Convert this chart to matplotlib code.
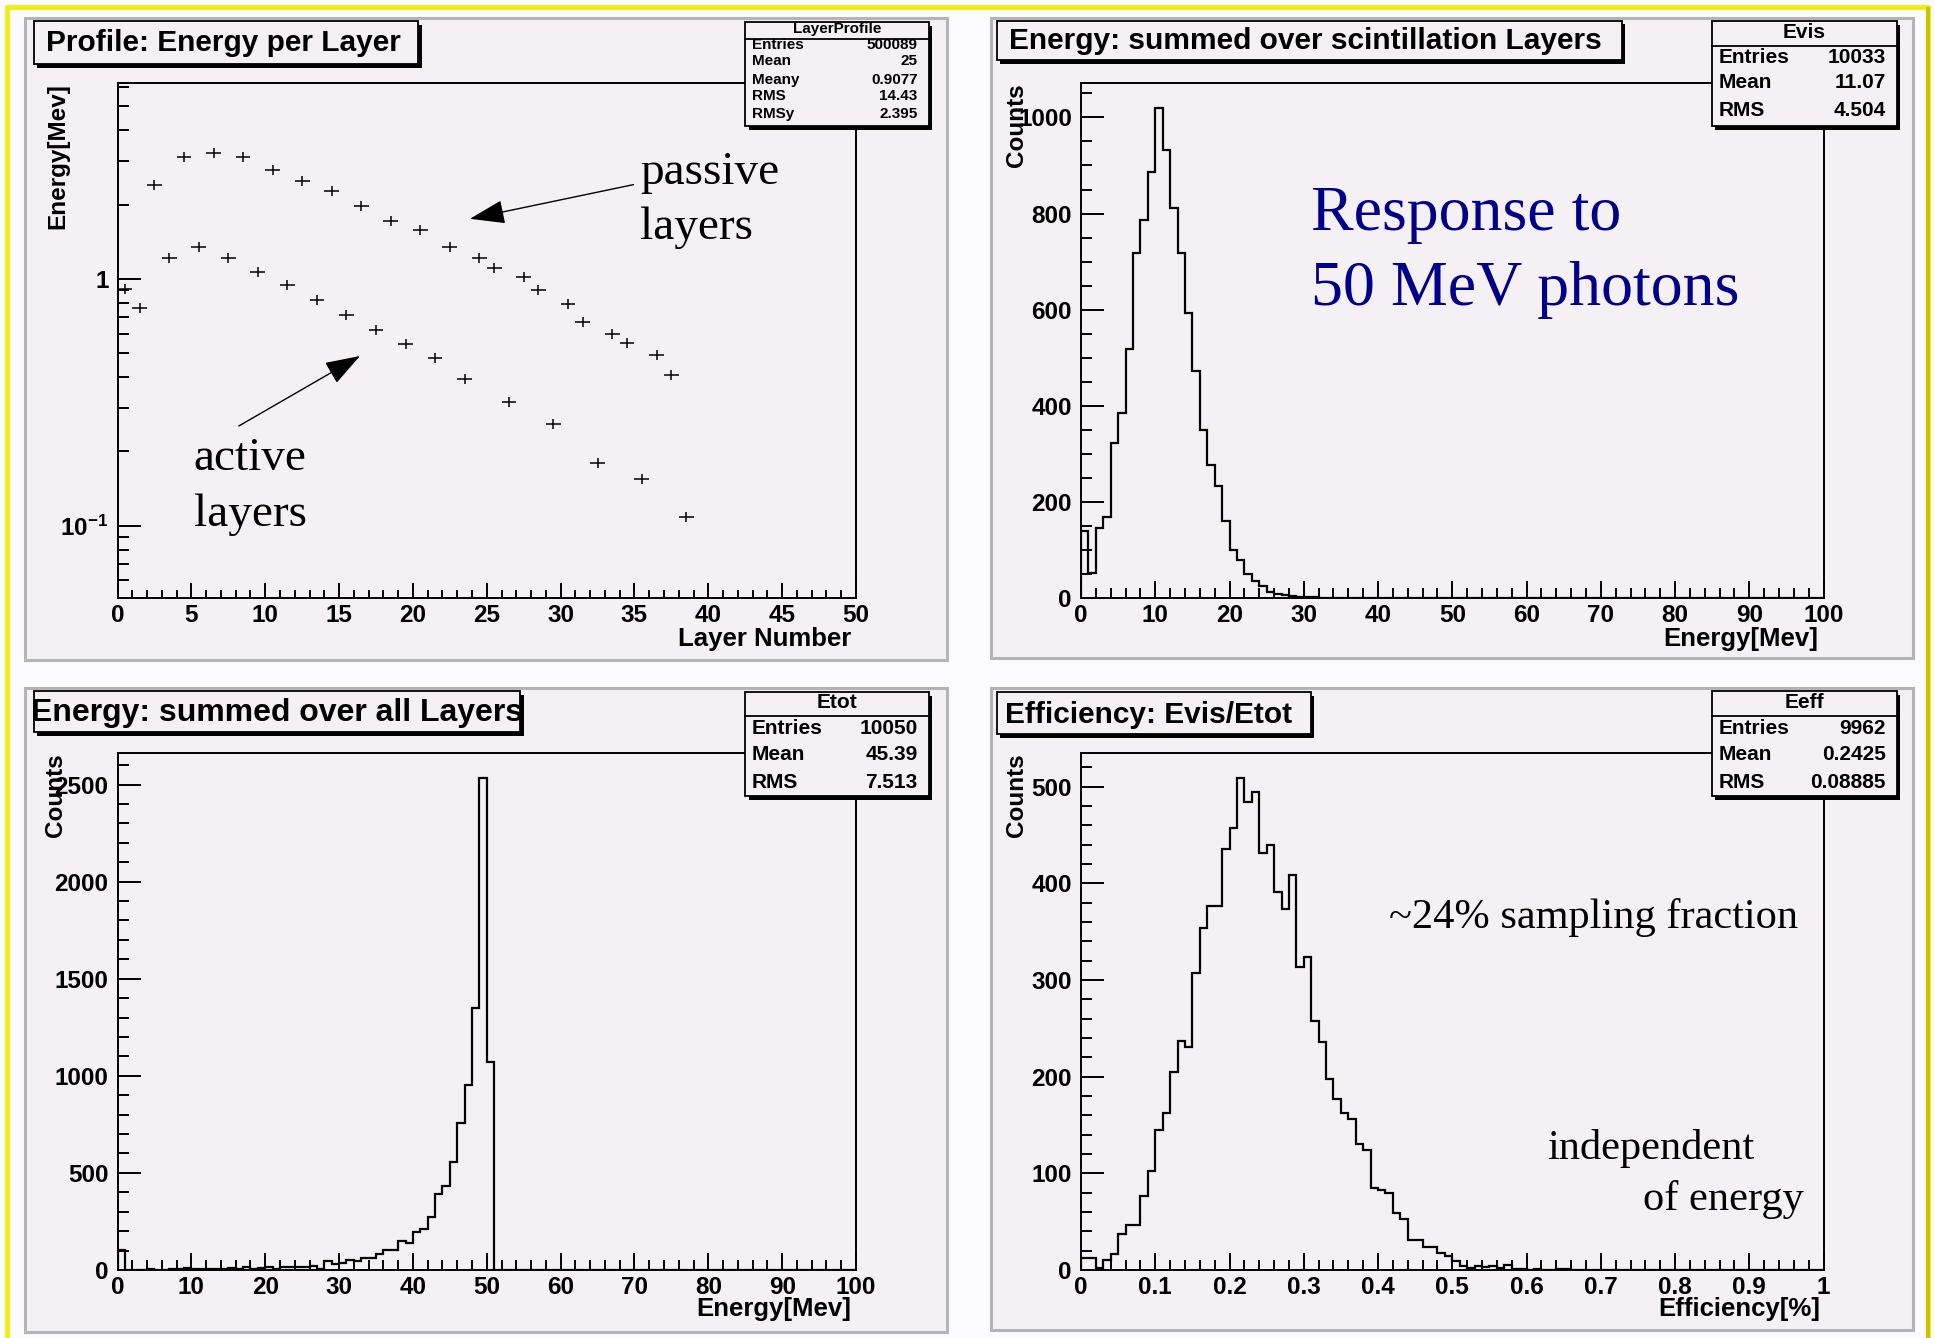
import matplotlib
matplotlib.use('Agg')
import matplotlib.pyplot as plt
import numpy as np
from matplotlib.patches import Rectangle, FancyArrowPatch
from matplotlib.lines import Line2D
from matplotlib.ticker import MultipleLocator, LogLocator, FuncFormatter, NullFormatter

# ---- data ----
passive_x = [2.5, 4.5, 6.5, 8.5, 10.5, 12.5, 14.5, 16.5, 18.5, 20.5, 22.5,
             24.5, 25.5, 27.5, 28.5, 30.5, 31.5, 33.5, 34.5, 36.5, 37.5]
passive_y = [2.39, 3.12, 3.25, 3.12, 2.77, 2.50, 2.26, 1.98, 1.71, 1.58, 1.35,
             1.21, 1.11, 1.02, 0.905, 0.793, 0.668, 0.598, 0.552, 0.491, 0.406]
active_x = [0.5, 1.5, 3.5, 5.5, 7.5, 9.5, 11.5, 13.5, 15.5, 17.5, 19.5, 21.5,
            23.5, 26.5, 29.5, 32.5, 35.5, 38.5]
active_y = [0.909, 0.762, 1.22, 1.34, 1.21, 1.07, 0.946, 0.819, 0.715, 0.619,
            0.543, 0.476, 0.393, 0.316, 0.2575, 0.180, 0.1545, 0.108]

evis_counts = [139, 53, 146, 169, 323, 384, 519, 717, 786, 886,
               1020, 932, 812, 717, 594, 472, 350, 277, 234, 161,
               99, 79, 50, 36, 26, 12, 8, 6, 5, 3,
               2, 2, 1, 1, 0, 1, 0, 0, 1, 0] + [0] * 60

etot_counts = [105, 1, 0, 1, 5, 1, 2, 6, 7, 8,
               7, 6, 3, 7, 6, 8, 7, 15, 7, 8,
               15, 5, 15, 14, 16, 15, 20, 7, 46, 29,
               37, 54, 46, 61, 61, 80, 102, 102, 148, 139,
               194, 211, 275, 389, 434, 556, 759, 955, 1350, 2534,
               1070] + [0] * 49

eeff_counts = [12, 12, 2, 10, 17, 37, 47, 47, 77, 102,
               145, 162, 205, 237, 231, 307, 354, 377, 377, 435,
               457, 509, 484, 494, 431, 440, 391, 373, 409, 313,
               324, 258, 236, 198, 177, 162, 156, 130, 124, 85,
               83, 80, 59, 53, 31, 31, 24, 24, 18, 14,
               9, 4, 2, 4, 3, 4, 2, 5, 1, 1,
               0, 1, 0, 0, 1, 1, 0, 0, 0, 0] + [0] * 30

titles = ['Profile: Energy per Layer', 'Energy: summed over scintillation Layers',
          'Energy: summed over all Layers', 'Efficiency: Evis/Etot']
stat_names = ['LayerProfile', 'Evis', 'Etot', 'Eeff']
stat_rows = [
    [('Entries', '500089'), ('Mean', '25'), ('Meany', '0.9077'), ('RMS', '14.43'), ('RMSy', '2.395')],
    [('Entries', '10033'), ('Mean', '11.07'), ('RMS', '4.504')],
    [('Entries', '10050'), ('Mean', '45.39'), ('RMS', '7.513')],
    [('Entries', '9962'), ('Mean', '0.2425'), ('RMS', '0.08885')],
]
xlabels = ['Layer Number', 'Energy[Mev]', 'Energy[Mev]', 'Efficiency[%]']
ylabels = ['Energy[Mev]', 'Counts', 'Counts', 'Counts']

W, H = 1935, 1338
BG = '#f4f0f4'

plt.rcParams['font.family'] = ['Liberation Sans', 'DejaVu Sans']
plt.rcParams['font.weight'] = 'bold'
plt.rcParams['mathtext.fontset'] = 'custom'
plt.rcParams['mathtext.rm'] = 'Liberation Sans:bold'
plt.rcParams['mathtext.it'] = 'Liberation Sans:bold'
plt.rcParams['mathtext.bf'] = 'Liberation Sans:bold'

fig = plt.figure(figsize=(W / 100, H / 100), dpi=100, facecolor='#fbfafc')


def fx(x):
    return x / W


def fy(y):
    return 1 - y / H


def rect(x0, y0, x1, y1, **kw):
    r = Rectangle((fx(x0), fy(y1)), (x1 - x0) / W, (y1 - y0) / H,
                  transform=fig.transFigure, **kw)
    fig.patches.append(r)
    return r


def pave(x0, y0, x1, y1, sh=3.5):
    rect(x0 + sh, y0 + sh, x1 + sh, y1 + sh, fc='black', ec='none', zorder=2)
    rect(x0, y0, x1, y1, fc=BG, ec='black', lw=1.3, zorder=2.1)


def make_axes(l, t, r, b):
    ax = fig.add_axes([fx(l), fy(b), (r - l) / W, (b - t) / H])
    ax.set_facecolor('none')
    for s in ax.spines.values():
        s.set_linewidth(1.4)
    ax.tick_params(axis='both', which='both', direction='in', top=False, right=False,
                   width=1.4, labelsize=17.5)
    ax.tick_params(axis='x', which='major', length=12.5, pad=4)
    ax.tick_params(axis='x', which='minor', length=7)
    ax.tick_params(axis='y', which='major', length=16.5, pad=6.5)
    ax.tick_params(axis='y', which='minor', length=8)
    return ax


# yellow outer border
rect(7, 7, 1928, 1345, fc='none', ec='#eeee10', lw=3.5, zorder=-10)
rect(1926, 7, 1930, 1345, fc='#c8c400', ec='none', zorder=-9)

# pads
pads = [(25, 18, 947, 660), (991, 18, 1913, 658), (25, 688, 947, 1332), (991, 688, 1913, 1330)]
for p in pads:
    rect(*p, fc=BG, ec='#b4b4b4', lw=2.2, zorder=-5)

frames = [(117.5, 83.3, 856, 598.2), (1081, 83.3, 1823.6, 598),
          (117.5, 753.3, 856, 1270), (1081, 753.3, 1823.6, 1270)]
axs = [make_axes(*f) for f in frames]

# --- top left: profile ---
ax = axs[0]
ax.set_yscale('log')
ax.set_xlim(0, 50)
ax.set_ylim(0.0508, 6.2)
ax.xaxis.set_major_locator(MultipleLocator(5))
ax.xaxis.set_minor_locator(MultipleLocator(1))
ax.yaxis.set_major_locator(LogLocator(base=10, numticks=10))
ax.yaxis.set_minor_locator(LogLocator(base=10, subs=np.arange(2, 10), numticks=20))
ax.yaxis.set_minor_formatter(NullFormatter())
ax.yaxis.set_major_formatter(FuncFormatter(
    lambda v, p: '1' if abs(v - 1) < 1e-9 else (r'$10^{-1}$' if abs(v - 0.1) < 1e-9 else '')))
ax.tick_params(axis='x', which='major', length=11)
ax.tick_params(axis='x', which='minor', length=6)
for xs, ys in [(passive_x, passive_y), (active_x, active_y)]:
    ax.errorbar(xs, ys, xerr=0.5, fmt='none', ecolor='black', elinewidth=1.1, capsize=0)
    ax.plot(xs, ys, ls='none', marker='|', ms=7, mew=1.1, color='black')

# --- histograms ---
hists = [(axs[1], evis_counts, 100, 10, 2, 200, 50),
         (axs[2], etot_counts, 100, 10, 2, 500, 100),
         (axs[3], eeff_counts, 1.0, 0.1, 0.02, 100, 20)]
for ax, counts, xmax, xmaj, xmin, ymaj, ymin in hists:
    edges = np.linspace(0, xmax, len(counts) + 1)
    ax.stairs(counts, edges, baseline=0, color='black', lw=1.6)
    ax.set_xlim(0, xmax)
    ax.set_ylim(0, 1.05 * max(counts))
    ax.xaxis.set_major_locator(MultipleLocator(xmaj))
    ax.xaxis.set_minor_locator(MultipleLocator(xmin))
    ax.yaxis.set_major_locator(MultipleLocator(ymaj))
    ax.yaxis.set_minor_locator(MultipleLocator(ymin))
axs[3].xaxis.set_major_formatter(FuncFormatter(lambda v, p: '%g' % round(v, 2)))

# axis titles
ylab_x = [-0.0806, -0.0875, -0.0846, -0.0875]
xlab_y = [-0.0796, -0.0796, -0.0754, -0.0754]
xlab_x = [0.993, 0.993, 0.993, 0.996]
for i, ax in enumerate(axs):
    ax.text(ylab_x[i], 1.0, ylabels[i], transform=ax.transAxes, rotation=90,
            ha='center', va='top', fontsize=17.5, fontweight='bold')
    ax.text(xlab_x[i], xlab_y[i], xlabels[i], transform=ax.transAxes,
            ha='right', va='center', fontsize=18.5, fontweight='bold')

# title boxes
tboxes = [(33.7, 21.4, 418, 64), (996.5, 20.5, 1621.6, 60),
          (33.7, 691.4, 520, 732), (996.5, 692, 1310.6, 734)]
tpos = [(46, 42.7, 21.5), (1009, 40.6, 21.5), (31, 712.6, 23), (1004.5, 714.7, 21.5)]
for i in range(4):
    pave(*tboxes[i])
    x, y, fs = tpos[i]
    fig.text(fx(x), fy(y), titles[i], ha='left', va='center', fontsize=fs,
             fontweight='bold', zorder=3)

# stats boxes
sboxes = [(745, 22, 928.7, 126), (1711.6, 21, 1896.5, 126),
          (745, 692, 928.7, 796), (1711.6, 691, 1896.5, 796)]
s_title_y = [29.5, 33, 703, 703]
s_line_y = [38.5, 46, 716, 716]
s_rows_y = [[45, 61, 80, 96, 114], [57.6, 83, 110], [728.5, 755, 782], [728, 755, 782]]
s_fs = [11, 15, 15, 15]
for i in range(4):
    x0, y0, x1, y1 = sboxes[i]
    pave(x0, y0, x1, y1)
    fig.text(fx((x0 + x1) / 2), fy(s_title_y[i]), stat_names[i], ha='center', va='center',
             fontsize=s_fs[i], fontweight='bold', zorder=3)
    fig.add_artist(Line2D([fx(x0), fx(x1)], [fy(s_line_y[i])] * 2, transform=fig.transFigure,
                          color='black', lw=1.3, zorder=2.2))
    for (lab, val), yr in zip(stat_rows[i], s_rows_y[i]):
        fig.text(fx(x0 + 7), fy(yr), lab, ha='left', va='center', fontsize=s_fs[i],
                 fontweight='bold', zorder=3)
        fig.text(fx(x1 - 11), fy(yr), val, ha='right', va='center', fontsize=s_fs[i],
                 fontweight='bold', zorder=3)

# slide annotations
serif = ['Liberation Serif', 'DejaVu Serif']
notes = [
    (640, 183.6, 'passive', 34, 'black'), (640, 239, 'layers', 34, 'black'),
    (193, 470, 'active', 34, 'black'), (194, 526, 'layers', 34, 'black'),
    (1310.6, 230, 'Response to', 46, '#000088'), (1310.6, 305, '50 MeV photons', 46, '#000088'),
    (1389, 928, '~24% sampling fraction', 30.5, 'black'),
    (1547, 1159, 'independent', 30.5, 'black'), (1643, 1210, 'of energy', 30.5, 'black'),
]
for x, y, s, fs, c in notes:
    fig.text(fx(x), fy(y), s, ha='left', va='baseline', fontsize=fs, color=c,
             family=serif, fontweight='normal', zorder=3)

arrows = [((633.6, 184.6), (470, 218.8)), ((238.8, 426), (360, 356))]
for a, b in arrows:
    fig.add_artist(FancyArrowPatch((fx(a[0]), fy(a[1])), (fx(b[0]), fy(b[1])),
                                   transform=fig.transFigure,
                                   arrowstyle='-|>,head_length=2.2,head_width=0.75',
                                   mutation_scale=10, lw=1.0, color='black',
                                   shrinkA=0, shrinkB=0, zorder=3))

fig.savefig('out.png', dpi=100, facecolor=fig.get_facecolor())
